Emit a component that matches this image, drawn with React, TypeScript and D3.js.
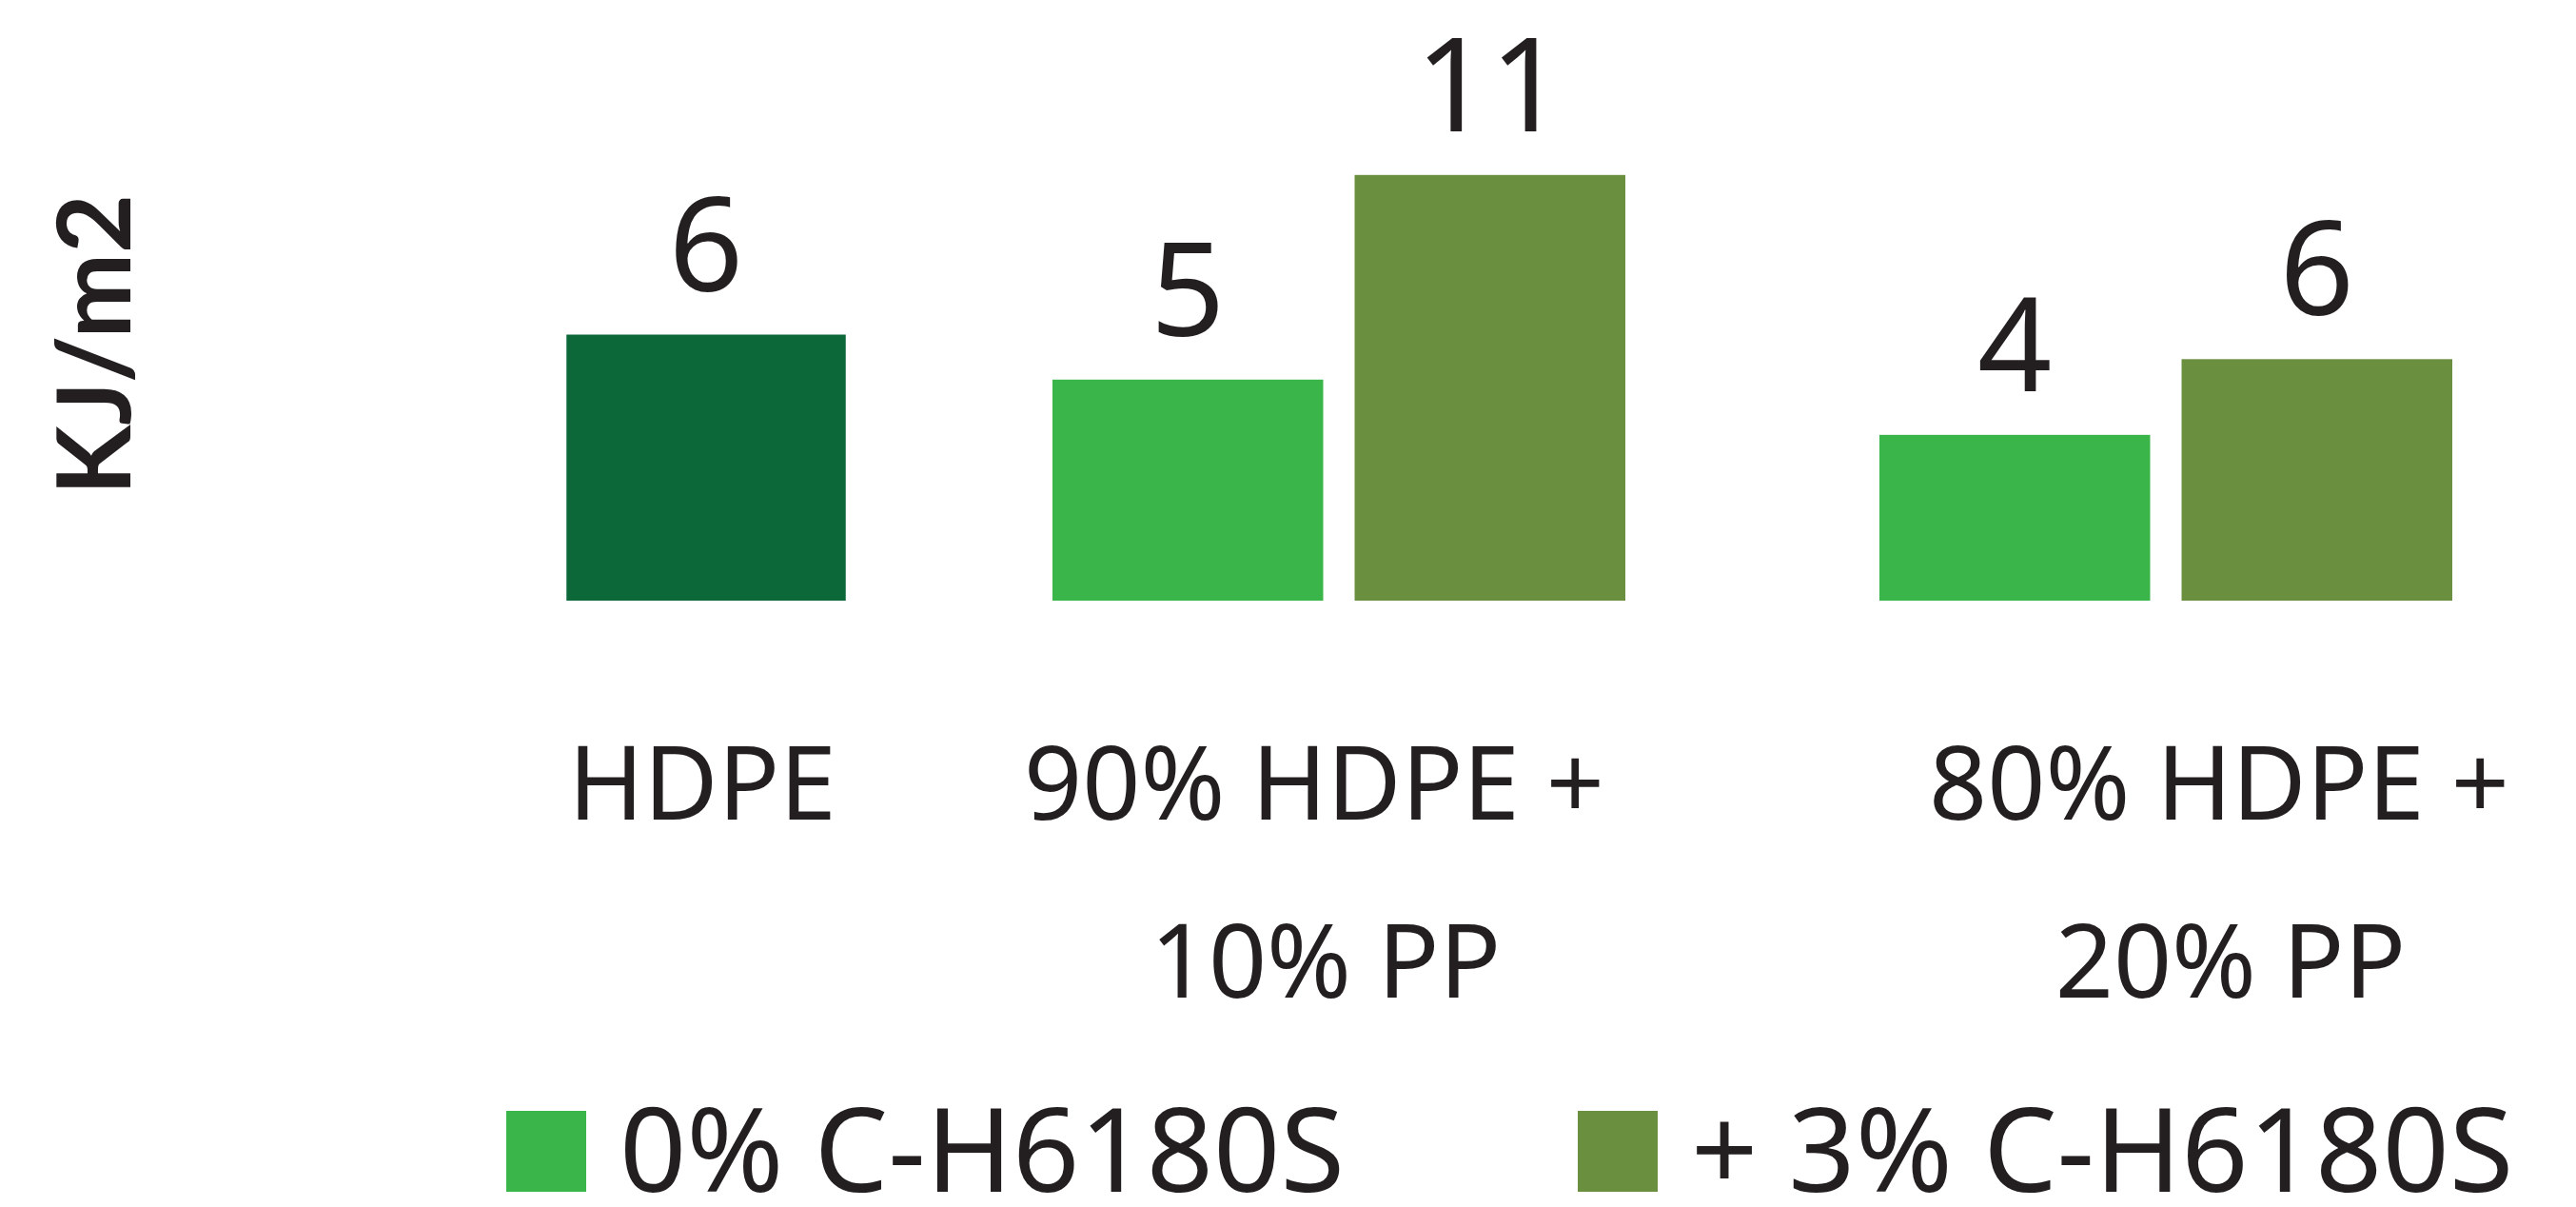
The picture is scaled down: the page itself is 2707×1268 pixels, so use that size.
import React from 'react';
import * as d3 from 'd3';

// Chart data
const categories = ['HDPE', '90% HDPE + 10% PP', '80% HDPE + 20% PP'];
const categoryLines = [['HDPE'], ['90% HDPE +', '10% PP'], ['80% HDPE +', '20% PP']];
const seriesKeys = ['base', '0%', '3%'];
const seriesNames = ['HDPE', '0% C-H6180S', '+ 3% C-H6180S'];
// one row per bar: category index, series key, bar height (KJ/m2), printed label
const barCategory = [0, 1, 1, 2, 2];
const barSeries = ['base', '0%', '3%', '0%', '3%'];
const barValues = [6.5, 5.4, 10.4, 4.05, 5.9];
const barLabels = ['6', '5', '11', '4', '6'];
const legendKeys = ['0%', '3%'];

const W = 2707;
const H = 1268;
const FONT = "'Noto Sans', 'Open Sans', sans-serif";
const INK = '#231f20';

const colors: Record<string, string> = {
  base: '#0c6839',
  '0%': '#3ab54a',
  '3%': '#698f3f',
};

const App: React.FC = () => {
  // group centres are uneven in the original layout
  const xGroup = d3.scaleOrdinal<string, number>().domain(categories).range([742, 1407, 2276]);
  const xLabel = d3.scaleOrdinal<string, number>().domain(categories).range([738, 1381, 2332]);
  const xInner = d3.scaleBand<string>().domain(['0%', '3%']).range([-301, 301]).paddingInner(0.104);
  const y = d3.scaleLinear().domain([0, 12]).range([631, 115]);

  const bw = xInner.bandwidth();
  const bars = barValues.map((v, i) => {
    const cat = categories[barCategory[i]];
    const key = barSeries[i];
    const single = key === 'base';
    const w = single ? bw + 9 : bw;
    const cx = single ? xGroup(cat) : xGroup(cat) + (xInner(key) as number) + bw / 2;
    return { key, cx, w, v, label: barLabels[i] };
  });

  const legendX = d3.scaleOrdinal<string, number>().domain(legendKeys).range([532, 1658]);

  return (
    <svg width={W} height={H} style={{ position: 'absolute', left: 0, top: 0, background: '#fff' }}>
      <rect width={W} height={H} fill="#fff" />

      {/* y axis title */}
      <text
        transform={`translate(137, 362) rotate(-90)`}
        textAnchor="middle"
        fontFamily="Lato, 'Liberation Sans', sans-serif"
        fontWeight={700}
        fontSize={107}
        fill={INK}
      >
        KJ/m2
      </text>

      {/* bars */}
      {bars.map((b, i) => (
        <g key={i}>
          <rect
            x={b.cx - b.w / 2}
            y={y(b.v)}
            width={b.w}
            height={y(0) - y(b.v)}
            fill={colors[b.key]}
          />
          <text
            x={b.cx}
            y={y(b.v) - 46}
            textAnchor="middle"
            fontFamily={FONT}
            fontSize={137}
            fill={INK}
          >
            {b.label}
          </text>
        </g>
      ))}

      {/* category labels */}
      {categories.map((c, i) => (
        <text key={c} textAnchor="middle" fontFamily={FONT} fontSize={107} fill={INK}>
          {categoryLines[i].map((line, j) => (
            <tspan key={j} x={xLabel(c) + j * 12} y={861 + j * 187}>
              {line}
            </tspan>
          ))}
        </text>
      ))}

      {/* legend */}
      {legendKeys.map((k) => {
        const lx = legendX(k);
        return (
          <g key={k}>
            <rect x={lx} y={1167} width={84} height={85} fill={colors[k]} />
            <text x={lx + 119} y={1252} fontFamily={FONT} fontSize={123} fill={INK}>
              {seriesNames[seriesKeys.indexOf(k)]}
            </text>
          </g>
        );
      })}
    </svg>
  );
};

export default App;
